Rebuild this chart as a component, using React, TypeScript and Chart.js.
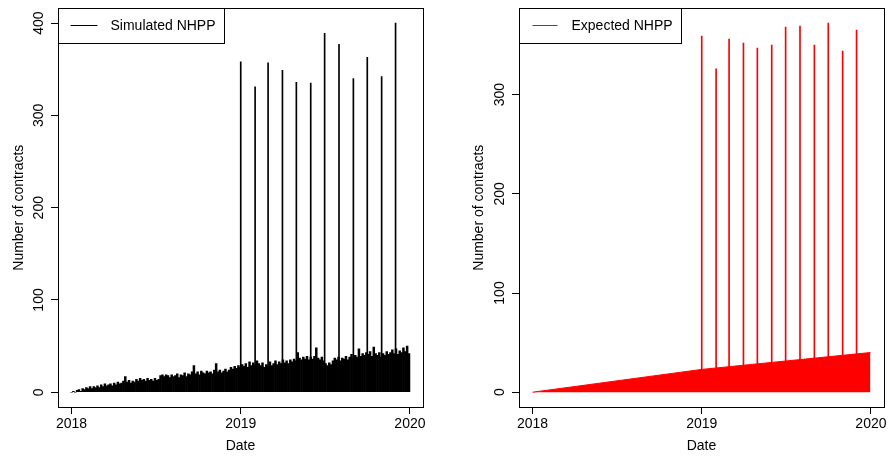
import React, { useEffect, useRef } from "react";
import { Chart, registerables } from "chart.js";

Chart.register(...registerables);

const FONT = "'Liberation Sans', Arial, Helvetica, sans-serif";

// ---- data ----
const startDate = "2018-01-01";
const xTickDates = ["2018-01-01", "2019-01-01", "2020-01-01"];
const xTickLabels = ["2018", "2019", "2020"];
const leftYTicks = [0, 100, 200, 300, 400];
const rightYTicks = [0, 100, 200, 300];

const spikeDates = [
  "2019-01-01", "2019-02-01", "2019-03-01", "2019-04-01", "2019-05-01", "2019-06-01",
  "2019-07-01", "2019-08-01", "2019-09-01", "2019-10-01", "2019-11-01", "2019-12-01",
];
const simulatedSpikes = [358, 331, 357, 349, 336, 335, 389, 377, 340, 363, 342, 400];
const expectedSpikes = [359, 326, 356, 352, 347, 350, 368, 369, 350, 372, 344, 365];

// simulated daily counts, read every 4 days from 2018-01-01
const simulatedStepDays = 4;
const simulatedCounts = [
  0, 1, 0, 2, 3, 1, 4, 3, 5, 4,
  6, 4, 6, 5, 7, 5, 8, 6, 9, 7,
  8, 9, 7, 10, 8, 11, 9, 10, 12, 17,
  11, 13, 10, 12, 11, 14, 12, 15, 13, 14,
  12, 15, 13, 14, 12, 15, 13, 14, 18, 19,
  17, 19, 18, 16, 19, 17, 18, 20, 16, 19,
  18, 21, 17, 20, 19, 22, 29, 20, 22, 19,
  23, 21, 20, 23, 21, 22, 20, 24, 31, 22,
  24, 21, 23, 25, 22, 24, 27, 25, 28, 26,
  29, 27, 30, 28, 31, 27, 33, 29, 32, 30,
  34, 31, 29, 32, 27, 30, 28, 33, 29, 31,
  34, 30, 33, 31, 35, 32, 34, 31, 35, 33,
  36, 34, 43, 37, 35, 38, 36, 39, 35, 38,
  36, 39, 48, 37, 35, 38, 34, 31, 29, 32,
  30, 34, 37, 35, 38, 34, 37, 36, 39, 35,
  38, 41, 37, 40, 38, 47, 39, 42, 40, 43,
  41, 44, 39, 49, 42, 40, 43, 38, 42, 40,
  44, 41, 43, 46, 42, 47, 41, 45, 43, 48,
  44, 50, 42,
];

const expectedRampDates = ["2018-01-01", "2019-01-01", "2019-12-31"];
const expectedRampValues = [0, 23, 40];

const dayOf = (d: string) => (Date.parse(d) - Date.parse(startDate)) / 86400000;

// ---- helpers ----
const X_MIN = -29.2;
const X_MAX = 758.2;

function xScale() {
  return {
    type: "linear",
    min: X_MIN,
    max: X_MAX,
    bounds: "data",
    offset: false,
    afterBuildTicks: (s: any) => {
      s.ticks = xTickDates.map((d) => ({ value: dayOf(d) }));
    },
    ticks: {
      callback: (_v: any, i: number) => xTickLabels[i],
      maxRotation: 0,
      minRotation: 0,
      autoSkip: false,
      padding: 2,
      color: "#000",
      font: { size: 14, family: FONT },
    },
    grid: {
      display: true,
      offset: false,
      drawOnChartArea: false,
      drawTicks: true,
      tickLength: 7,
      color: "#000",
      lineWidth: 1,
    },
    border: { display: true, color: "#000", width: 1 },
    title: {
      display: true,
      text: "Date",
      color: "#000",
      font: { size: 14, family: FONT },
      padding: { top: 0, bottom: 4.6 },
    },
    afterFit: (s: any) => {
      s.height = 52;
    },
  };
}

function yScale(ticks: number[], min: number, max: number, width: number) {
  return {
    type: "linear",
    min,
    max,
    bounds: "data",
    afterBuildTicks: (s: any) => {
      s.ticks = ticks.map((v) => ({ value: v }));
    },
    ticks: {
      minRotation: 90,
      maxRotation: 90,
      crossAlign: "center",
      padding: 0,
      autoSkip: false,
      color: "#000",
      font: { size: 14, family: FONT },
      callback: (v: any) => String(v),
    },
    grid: {
      display: true,
      offset: false,
      drawOnChartArea: false,
      drawTicks: true,
      tickLength: 7,
      color: "#000",
      lineWidth: 1,
    },
    border: { display: true, color: "#000", width: 1 },
    title: {
      display: true,
      text: "Number of contracts",
      color: "#000",
      font: { size: 14, family: FONT },
      padding: { top: 10.6, bottom: 0 },
    },
    afterFit: (s: any) => {
      s.width = width;
    },
  };
}

const boxPlugin = {
  id: "rBox",
  afterDraw(chart: any) {
    const { ctx, chartArea } = chart;
    ctx.save();
    ctx.strokeStyle = "#000";
    ctx.lineWidth = 1;
    const l = Math.round(chartArea.left) + 0.5;
    const t = Math.round(chartArea.top) + 0.5;
    const r = Math.round(chartArea.right) + 0.5;
    const b = Math.round(chartArea.bottom) + 0.5;
    ctx.strokeRect(l, t, r - l, b - t);
    ctx.restore();
  },
};

function rLegend(label: string, color: string, boxWidth: number, lineStart: number, lineEnd: number) {
  return {
    id: "rLegend",
    afterDraw(chart: any) {
      const { ctx, chartArea } = chart;
      const x0 = Math.round(chartArea.left) + 0.5;
      const y0 = Math.round(chartArea.top) + 0.5;
      const h = 35;
      ctx.save();
      ctx.fillStyle = "#fff";
      ctx.fillRect(x0, y0, boxWidth, h);
      ctx.strokeStyle = "#000";
      ctx.lineWidth = 1;
      ctx.strokeRect(x0, y0, boxWidth, h);
      ctx.strokeStyle = color;
      ctx.beginPath();
      ctx.moveTo(x0 + lineStart, y0 + 17);
      ctx.lineTo(x0 + lineEnd, y0 + 17);
      ctx.stroke();
      ctx.fillStyle = "#000";
      ctx.font = `14px ${FONT}`;
      ctx.textBaseline = "middle";
      ctx.textAlign = "left";
      ctx.fillText(label, x0 + 52, y0 + 18);
      ctx.restore();
    },
  };
}

function leftConfig(): any {
  return {
    type: "bar",
    data: {
      datasets: [
        {
          label: "spikes",
          data: spikeDates.map((d, i) => ({ x: dayOf(d), y: simulatedSpikes[i] })),
          backgroundColor: "#000",
          borderWidth: 0,
          barThickness: 1,
          grouped: false,
        },
        {
          label: "Simulated NHPP",
          data: simulatedCounts.map((v, i) => ({ x: i * simulatedStepDays, y: v })),
          backgroundColor: "#000",
          borderWidth: 0,
          barThickness: 1.85,
          grouped: false,
        },
      ],
    },
    options: {
      animation: false,
      responsive: false,
      events: [],
      layout: { padding: { left: 0, right: 22, top: 6, bottom: 0 } },
      plugins: { legend: { display: false }, tooltip: { enabled: false } },
      scales: { x: xScale(), y: yScale(leftYTicks, -16, 416, 58) },
    },
    plugins: [boxPlugin, rLegend("Simulated NHPP", "#000", 166, 12, 39)],
  };
}

function rightConfig(): any {
  return {
    type: "bar",
    data: {
      datasets: [
        {
          label: "spikes",
          data: spikeDates.map((d, i) => ({ x: dayOf(d), y: expectedSpikes[i] })),
          backgroundColor: "#ff0000",
          borderWidth: 0,
          barThickness: 1,
          grouped: false,
        },
        {
          type: "line",
          label: "Expected NHPP",
          data: expectedRampDates.map((d, i) => ({ x: dayOf(d), y: expectedRampValues[i] })),
          borderColor: "#ff0000",
          backgroundColor: "#ff0000",
          borderWidth: 1,
          pointRadius: 0,
          fill: "origin",
          tension: 0,
        },
      ],
    },
    options: {
      animation: false,
      responsive: false,
      events: [],
      layout: { padding: { left: 15, right: 7, top: 6, bottom: 0 } },
      plugins: { legend: { display: false }, tooltip: { enabled: false } },
      scales: { x: xScale(), y: yScale(rightYTicks, -14.9, 386.9, 59) },
    },
    plugins: [boxPlugin, rLegend("Expected NHPP", "#ff0000", 162, 13, 38)],
  };
}

function Panel({ make, left, width }: { make: () => any; left: number; width: number }) {
  const ref = useRef<HTMLCanvasElement | null>(null);
  useEffect(() => {
    if (!ref.current) return;
    const chart = new Chart(ref.current, make());
    return () => chart.destroy();
  }, []);
  return (
    <canvas
      ref={ref}
      width={width}
      height={459}
      style={{ position: "absolute", left, top: 0, width, height: 459, display: "block" }}
    />
  );
}

export default function App() {
  return (
    <div style={{ position: "absolute", left: 0, top: 0, width: 891, height: 459, background: "#fff" }}>
      <Panel make={leftConfig} left={0} width={445} />
      <Panel make={rightConfig} left={445} width={446} />
    </div>
  );
}
